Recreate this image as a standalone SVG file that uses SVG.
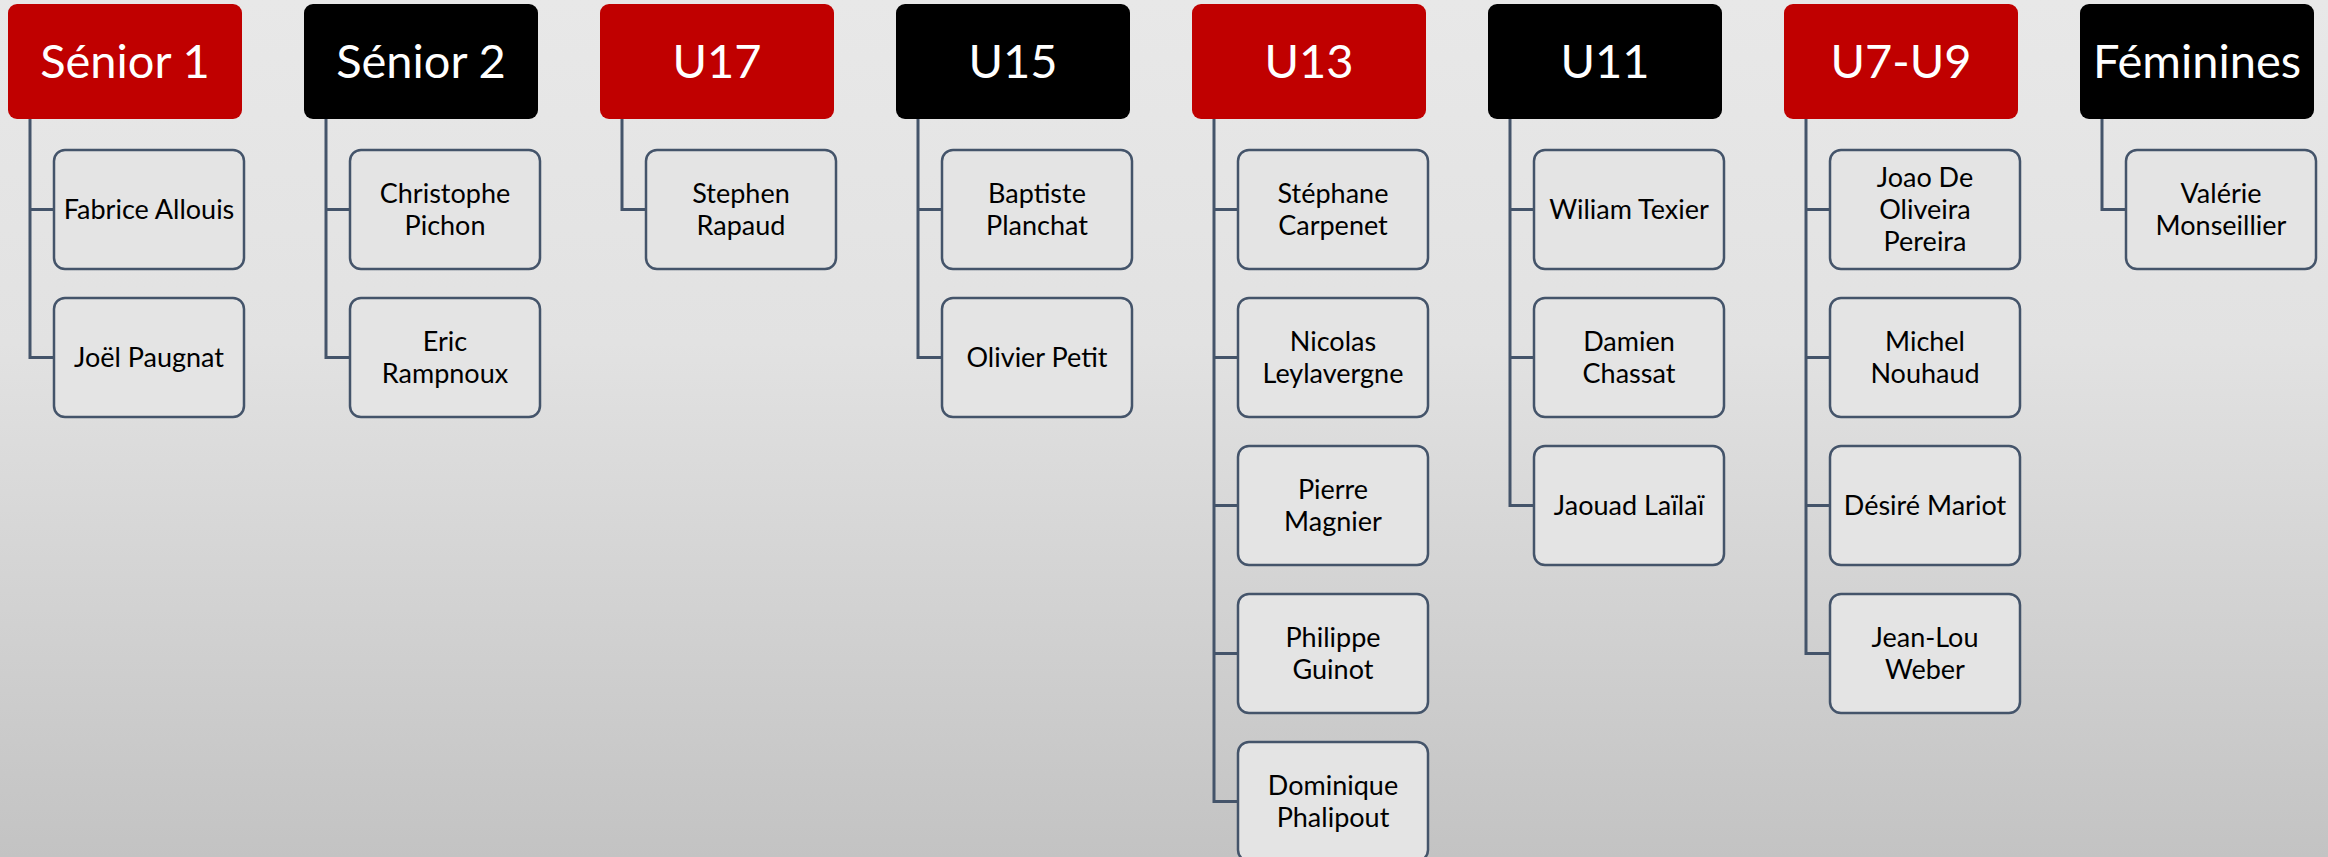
<svg xmlns="http://www.w3.org/2000/svg" width="2328" height="857" viewBox="0 0 2328 857">
<defs>
<linearGradient id="bg" x1="0" y1="0" x2="0" y2="1">
<stop offset="0" stop-color="#e8e8e8"/>
<stop offset="0.4" stop-color="#e2e2e2"/>
<stop offset="1" stop-color="#c3c3c3"/>
</linearGradient>
<style>
.hr{fill:#c00000}
.hb{fill:#000000}
.ht{fill:#ffffff;font-family:Lato,"Open Sans",sans-serif;font-size:47px;text-anchor:middle}
.cb{fill:#e4e4e4;stroke:#44546a;stroke-width:2.5}
.ct{fill:#000000;font-family:Lato,"Open Sans",sans-serif;font-size:27px;text-anchor:middle}
.cn{fill:none;stroke:#44546a;stroke-width:3}
</style>
</defs>
<rect x="0" y="0" width="2328" height="857" fill="url(#bg)"/>

<g id="connectors">
<path class="cn" d="M30 119 V357.5 H54 M30 209.5 H54"/>
<path class="cn" d="M326 119 V357.5 H350 M326 209.5 H350"/>
<path class="cn" d="M622 119 V209.5 H646"/>
<path class="cn" d="M918 119 V357.5 H942 M918 209.5 H942"/>
<path class="cn" d="M1214 119 V801.5 H1238 M1214 209.5 H1238 M1214 357.5 H1238 M1214 505.5 H1238 M1214 653.5 H1238"/>
<path class="cn" d="M1510 119 V505.5 H1534 M1510 209.5 H1534 M1510 357.5 H1534"/>
<path class="cn" d="M1806 119 V653.5 H1830 M1806 209.5 H1830 M1806 357.5 H1830 M1806 505.5 H1830"/>
<path class="cn" d="M2102 119 V209.5 H2126"/>
</g>

<g id="senior1"><rect class="hr" x="8" y="4" width="234" height="115" rx="9"/><text class="ht" x="125" y="78">Sénior 1</text></g>
<g id="senior2"><rect class="hb" x="304" y="4" width="234" height="115" rx="9"/><text class="ht" x="421" y="78">Sénior 2</text></g>
<g id="u17"><rect class="hr" x="600" y="4" width="234" height="115" rx="9"/><text class="ht" x="717" y="78">U17</text></g>
<g id="u15"><rect class="hb" x="896" y="4" width="234" height="115" rx="9"/><text class="ht" x="1013" y="78">U15</text></g>
<g id="u13"><rect class="hr" x="1192" y="4" width="234" height="115" rx="9"/><text class="ht" x="1309" y="78">U13</text></g>
<g id="u11"><rect class="hb" x="1488" y="4" width="234" height="115" rx="9"/><text class="ht" x="1605" y="78">U11</text></g>
<g id="u7u9"><rect class="hr" x="1784" y="4" width="234" height="115" rx="9"/><text class="ht" x="1901" y="78">U7-U9</text></g>
<g id="feminines"><rect class="hb" x="2080" y="4" width="234" height="115" rx="9"/><text class="ht" x="2197" y="78">Féminines</text></g>

<g id="fabrice"><rect class="cb" x="54" y="150" width="190" height="119" rx="11"/><text class="ct" x="149" y="218.5">Fabrice Allouis</text></g>
<g id="joel"><rect class="cb" x="54" y="298" width="190" height="119" rx="11"/><text class="ct" x="149" y="366.5">Joël Paugnat</text></g>

<g id="christophe"><rect class="cb" x="350" y="150" width="190" height="119" rx="11"/><text class="ct" x="445" y="202.5">Christophe</text><text class="ct" x="445" y="234.5">Pichon</text></g>
<g id="eric"><rect class="cb" x="350" y="298" width="190" height="119" rx="11"/><text class="ct" x="445" y="350.5">Eric</text><text class="ct" x="445" y="382.5">Rampnoux</text></g>

<g id="stephen"><rect class="cb" x="646" y="150" width="190" height="119" rx="11"/><text class="ct" x="741" y="202.5">Stephen</text><text class="ct" x="741" y="234.5">Rapaud</text></g>

<g id="baptiste"><rect class="cb" x="942" y="150" width="190" height="119" rx="11"/><text class="ct" x="1037" y="202.5">Baptiste</text><text class="ct" x="1037" y="234.5">Planchat</text></g>
<g id="olivier"><rect class="cb" x="942" y="298" width="190" height="119" rx="11"/><text class="ct" x="1037" y="366.5">Olivier Petit</text></g>

<g id="stephane"><rect class="cb" x="1238" y="150" width="190" height="119" rx="11"/><text class="ct" x="1333" y="202.5">Stéphane</text><text class="ct" x="1333" y="234.5">Carpenet</text></g>
<g id="nicolas"><rect class="cb" x="1238" y="298" width="190" height="119" rx="11"/><text class="ct" x="1333" y="350.5">Nicolas</text><text class="ct" x="1333" y="382.5">Leylavergne</text></g>
<g id="pierre"><rect class="cb" x="1238" y="446" width="190" height="119" rx="11"/><text class="ct" x="1333" y="498.5">Pierre</text><text class="ct" x="1333" y="530.5">Magnier</text></g>
<g id="philippe"><rect class="cb" x="1238" y="594" width="190" height="119" rx="11"/><text class="ct" x="1333" y="646.5">Philippe</text><text class="ct" x="1333" y="678.5">Guinot</text></g>
<g id="dominique"><rect class="cb" x="1238" y="742" width="190" height="119" rx="11"/><text class="ct" x="1333" y="794.5">Dominique</text><text class="ct" x="1333" y="826.5">Phalipout</text></g>

<g id="wiliam"><rect class="cb" x="1534" y="150" width="190" height="119" rx="11"/><text class="ct" x="1629" y="218.5">Wiliam Texier</text></g>
<g id="damien"><rect class="cb" x="1534" y="298" width="190" height="119" rx="11"/><text class="ct" x="1629" y="350.5">Damien</text><text class="ct" x="1629" y="382.5">Chassat</text></g>
<g id="jaouad"><rect class="cb" x="1534" y="446" width="190" height="119" rx="11"/><text class="ct" x="1629" y="514.5">Jaouad Laïlaï</text></g>

<g id="joao"><rect class="cb" x="1830" y="150" width="190" height="119" rx="11"/><text class="ct" x="1925" y="186.5">Joao De</text><text class="ct" x="1925" y="218.5">Oliveira</text><text class="ct" x="1925" y="250.5">Pereira</text></g>
<g id="michel"><rect class="cb" x="1830" y="298" width="190" height="119" rx="11"/><text class="ct" x="1925" y="350.5">Michel</text><text class="ct" x="1925" y="382.5">Nouhaud</text></g>
<g id="desire"><rect class="cb" x="1830" y="446" width="190" height="119" rx="11"/><text class="ct" x="1925" y="514.5">Désiré Mariot</text></g>
<g id="jeanlou"><rect class="cb" x="1830" y="594" width="190" height="119" rx="11"/><text class="ct" x="1925" y="646.5">Jean-Lou</text><text class="ct" x="1925" y="678.5">Weber</text></g>

<g id="valerie"><rect class="cb" x="2126" y="150" width="190" height="119" rx="11"/><text class="ct" x="2221" y="202.5">Valérie</text><text class="ct" x="2221" y="234.5">Monseillier</text></g>
</svg>
